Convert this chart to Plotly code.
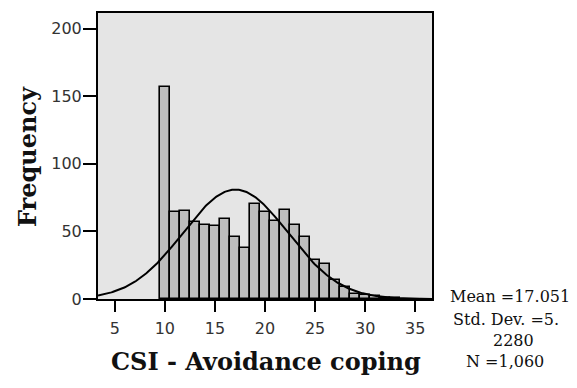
import numpy as np
import plotly.graph_objects as go

# Histogram data (bin centers, counts)
bin_centers = [10, 11, 12, 13, 14, 15, 16, 17, 18, 19, 20, 21, 22, 23, 24, 25, 26, 27, 28, 29, 30, 31, 32, 33]
counts = [157, 64, 65, 57, 55, 54, 59, 46, 38, 70, 64, 58, 66, 55, 46, 29, 26, 14, 9, 4, 3, 2, 1, 1]

# Summary statistics shown in the legend
mean_val = 17.051
std_val = 5.2280
n_val = 1060
stat_lines = ["Mean =17.051", "Std. Dev. =5.", "2280", "N =1,060"]

x_ticks = [5, 10, 15, 20, 25, 30, 35]
y_ticks = [0, 50, 100, 150, 200]
x_title = "CSI - Avoidance coping"
y_title = "Frequency"

x_range = [3.33, 36.67]
y_range = [0, 211.5]

fig = go.Figure()
fig.add_trace(go.Bar(
    x=bin_centers, y=counts, width=1.0,
    marker=dict(color="#bdbdbd", line=dict(color="black", width=1.6)),
    showlegend=False, hoverinfo="x+y",
))

# Normal curve from the stated statistics (bin width 1)
xc = np.linspace(x_range[0], x_range[1], 300)
yc = n_val * 1.0 / (std_val * np.sqrt(2 * np.pi)) * np.exp(-0.5 * ((xc - mean_val) / std_val) ** 2)
fig.add_trace(go.Scatter(x=xc, y=yc, mode="lines", line=dict(color="black", width=2),
                         showlegend=False, hoverinfo="skip"))

W, H = 577, 388
L, R, T, B = 98, 145, 13, 89
plot_h = H - T - B
plot_w = W - L - R

fig.update_layout(
    width=W, height=H,
    margin=dict(l=L, r=R, t=T, b=B, pad=0),
    paper_bgcolor="white",
    plot_bgcolor="#e5e5e5",
    bargap=0,
    font=dict(family="DejaVu Sans", size=16, color="#333333"),
)
fig.update_xaxes(
    range=x_range, tickvals=x_ticks, ticktext=[str(v) for v in x_ticks],
    showgrid=False, zeroline=False,
    showline=True, linecolor="black", linewidth=2, mirror=True,
    ticks="outside", ticklen=11, tickwidth=2, tickcolor="black",
    ticklabelstandoff=3,
    tickfont=dict(family="DejaVu Sans", size=16, color="#333333"),
)
fig.update_yaxes(
    range=y_range, tickvals=y_ticks, ticktext=[str(v) for v in y_ticks],
    showgrid=False, zeroline=False,
    showline=True, linecolor="black", linewidth=2, mirror=True,
    ticks="outside", ticklen=13, tickwidth=2, tickcolor="black",
    ticklabelstandoff=-2,
    tickfont=dict(family="DejaVu Sans", size=16, color="#333333"),
)

base_y = T + plot_h  # pixel y of the x axis

def px_ann(text, cx, cy, size, bold=False, angle=0, family="DejaVu Serif"):
    fig.add_annotation(
        xref="paper", yref="paper", x=0, y=0,
        xshift=cx - L, yshift=-(cy - base_y),
        xanchor="center", yanchor="middle",
        text=("<b>%s</b>" % text) if bold else text,
        showarrow=False, textangle=angle,
        font=dict(family=family, size=size, color="#111111"),
    )

px_ann(x_title, 266, 361, 24, bold=True)
px_ann(y_title, 27, 157, 24, bold=True, angle=-90)

stat_pos = [(510, 296), (506, 319), (513, 340), (505, 361)]
for txt, (cx, cy) in zip(stat_lines, stat_pos):
    px_ann(txt, cx, cy, 16)

fig.write_html("out.html")
